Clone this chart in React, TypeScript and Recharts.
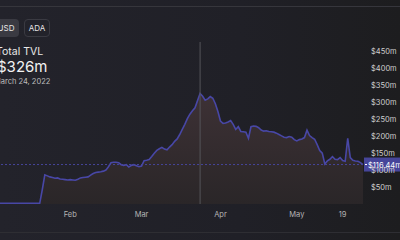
import React from 'react';
import { AreaChart, Area, XAxis, YAxis, ReferenceLine } from 'recharts';

// day offsets are counted from Feb 1, 2022
const START_DAY = -28;

const TVL = [
  2, 2, 2, 2, 2, 2, 2, 2, 2, 2, 2, 2, 2, 2, 2, 2, 2,
  42, 86, 83, 80, 78, 76, 77, 74, 73, 72, 71,
  72, 71, 70, 73, 77, 78, 79, 80, 85, 90, 93, 94, 95, 97, 100, 110,
  122, 123, 123, 122, 116, 114, 116, 109, 114, 116, 113, 110,
  112, 128, 129, 131, 140, 150, 158, 163, 167, 162, 160, 168, 175, 185,
  192, 205, 220, 235, 252, 265, 275, 284, 305, 326, 318, 306, 310, 317,
  312, 296, 273, 245, 238, 239, 242, 246, 235, 220, 228, 214, 213, 212,
  194, 228, 230, 229, 225, 218, 215, 216, 214, 213, 212, 209, 205, 201,
  197, 196, 199, 197, 190, 186, 190, 192, 196, 218, 202, 196, 191, 175,
  158, 150, 118, 127, 132, 140, 132, 131, 137, 128, 126, 194, 137, 129,
  127, 126, 122, 116.44,
];

const X_TICKS = [0, 28, 59, 89, 107];
const X_LABELS = ['Feb', 'Mar', 'Apr', 'May', '19'];
const Y_TICKS = [50, 100, 150, 200, 250, 300, 350, 400, 450];

const SELECTED_DAY = 51;
const CURRENT = 116.44;

const data = TVL.map((v, i) => ({ day: START_DAY + i, tvl: v }));

const PriceTag = (props: any) => {
  const vb = props.viewBox || {};
  const x = vb.x + vb.width;
  const y = vb.y;
  return (
    <g>
      <rect x={x + 1} y={y - 7} width={40} height={14} fill="#46459a" />
      <line x1={x + 2} x2={x + 4} y1={y} y2={y} stroke="#fff" strokeWidth={1} />
      <text x={x + 5} y={y + 3} fill="#fff" fontSize={7.5} fontFamily="Inter">
        ${CURRENT}m
      </text>
    </g>
  );
};

const App: React.FC = () => {
  return (
    <div
      style={{
        position: 'absolute',
        left: 0,
        top: 0,
        width: 400,
        height: 240,
        overflow: 'hidden',
        background: 'linear-gradient(90deg, #23232b 0%, #202027 60%, #1d1d1f 100%)',
        fontFamily: 'Inter, sans-serif',
      }}
    >
      <div style={{ position: 'absolute', left: 0, top: 6, width: 400, height: 1, background: '#36363c' }} />
      <div style={{ position: 'absolute', left: 0, top: 232, width: 400, height: 1, background: '#2e2e33' }} />

      <div
        style={{
          position: 'absolute', left: -7, top: 19, width: 26, height: 18, borderRadius: 4,
          background: '#3a3a42', color: '#e6e6e6', fontSize: 8, lineHeight: '18px', textAlign: 'center',
        }}
      >
        USD
      </div>
      <div
        style={{
          position: 'absolute', left: 24, top: 19, width: 24, height: 16, borderRadius: 4,
          border: '1px solid #3a3a42', color: '#e6e6e6', fontSize: 8, lineHeight: '16px', textAlign: 'center',
        }}
      >
        ADA
      </div>
      <div style={{ position: 'absolute', left: -4, top: 45, color: '#e8e8e8', fontSize: 10.5 }}>Total TVL</div>
      <div style={{ position: 'absolute', left: -3, top: 57, color: '#f2f2f2', fontSize: 15 }}>$326m</div>
      <div style={{ position: 'absolute', left: -6, top: 77, color: '#bdbdbd', fontSize: 7.5 }}>March 24, 2022</div>

      <div style={{ position: 'absolute', left: -1, top: 0 }}>
        <AreaChart width={401} height={240} data={data} margin={{ top: 42, right: 0, left: 0, bottom: 0 }}>
          <defs>
            <linearGradient id="tvlFill" x1="0" y1="0" x2="0" y2="1">
              <stop offset="0%" stopColor="#3d3135" />
              <stop offset="100%" stopColor="#2a2628" />
            </linearGradient>
          </defs>
          <XAxis
            dataKey="day"
            type="number"
            domain={[START_DAY, START_DAY + TVL.length - 1]}
            ticks={X_TICKS}
            tickFormatter={(d: number) => X_LABELS[X_TICKS.indexOf(d)]}
            axisLine={false}
            tickLine={false}
            height={36}
            tick={{ fill: '#b4b4b4', fontSize: 7.5 }}
          />
          <YAxis
            orientation="right"
            width={37}
            domain={[0, 478]}
            ticks={Y_TICKS}
            tickFormatter={(v: number) => `$${v}m`}
            axisLine={false}
            tickLine={false}
            tick={{ fill: '#cfcfcf', fontSize: 7.5, textAnchor: 'start' }}
          />
          <Area
            type="linear"
            dataKey="tvl"
            stroke="#4847a6"
            strokeWidth={1.6}
            fill="url(#tvlFill)"
            fillOpacity={1}
            isAnimationActive={false}
            dot={false}
            activeDot={false}
          />
          <ReferenceLine x={SELECTED_DAY} stroke="#55555a" strokeWidth={1} />
          <ReferenceLine
            y={CURRENT}
            stroke="#46459a"
            strokeDasharray="2 2"
            label={<PriceTag />}
          />
        </AreaChart>
      </div>
    </div>
  );
};

export default App;
